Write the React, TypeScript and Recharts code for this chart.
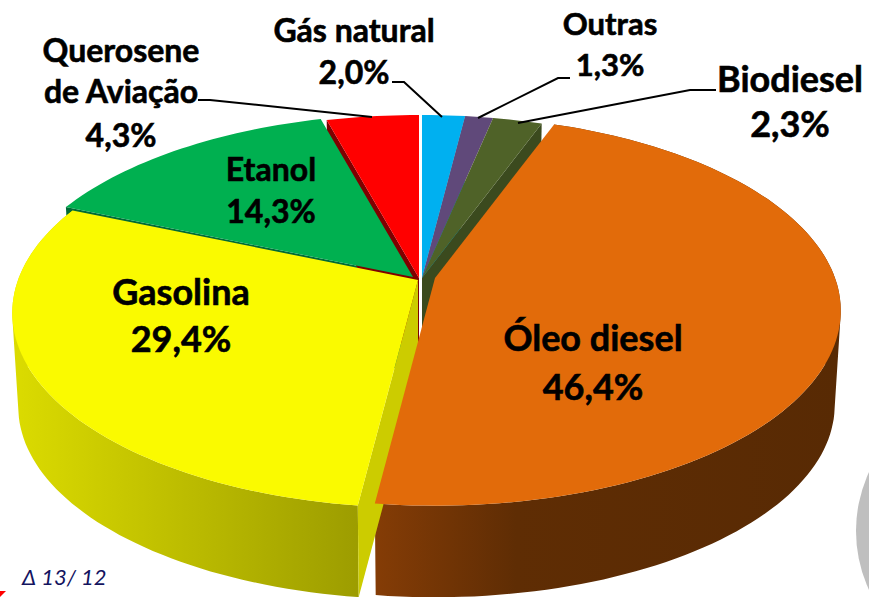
import { Pie, PieChart } from 'recharts'

const categories = ['Gás natural', 'Outras', 'Biodiesel', 'Óleo diesel', 'Gasolina', 'Etanol', 'Querosene de Aviação']
const shares = [2.0, 1.3, 2.3, 46.4, 29.4, 14.3, 4.3]
const topColors = ['#00b0f0', '#60497a', '#4f6228', '#e26b0a', '#fafa00', '#00b050', '#ff0000']
const cutColors = ['#00a0d8', '#4c3a60', '#3b4a1e', '#7f3a05', '#cccc00', '#006a36', '#7f0000']
const wallFills = ['#00a0d8', '#4c3a60', '#3b4a1e', 'url(#wallOrange)', 'url(#wallYellow)', '#006a36', '#7f0000']

// how far each slice is pulled out of the pie, in px
const sliceDx = [4, 4, 4, 17, 0, -5, 1]
const sliceDy = [0, 0, 0, 0, 2, -1, 0]
const sliceScale = [1, 1, 1, 0.995, 0.995, 1, 1]

const chartData = categories.map((name, i) => ({ name, value: shares[i], fill: topColors[i] }))

const CENTER_X = 418
const CENTER_Y = 278
const RADIUS = 402
const SQUASH = 0.4736 // tilt of the disc
const PERSPECTIVE = 0.168
const DEPTH = 95
const BOTTOM_SCALE = 0.985

const PAGE_STYLE = 'html,body{margin:0;padding:0;background:#fff;overflow:hidden}'

type Pt = [number, number]

function project(cx: number, cy: number, r: number, angle: number): Pt {
  const rad = (angle * Math.PI) / 180
  const u = Math.cos(rad)
  const v = -Math.sin(rad)
  const w = 1 - PERSPECTIVE * v
  return [cx + (r * u) / w, cy + (r * SQUASH * v) / w]
}

// same point on the lower rim of the disc
function lower(p: Pt, cx: number, cy: number): Pt {
  return [cx + (p[0] - cx) * BOTTOM_SCALE, cy + DEPTH + (p[1] - cy) * BOTTOM_SCALE]
}

function arcPoints(cx: number, cy: number, r: number, from: number, to: number): Pt[] {
  const steps = Math.max(2, Math.ceil(Math.abs(to - from) / 1.5))
  const pts: Pt[] = []
  for (let i = 0; i <= steps; i++) {
    pts.push(project(cx, cy, r, from + ((to - from) * i) / steps))
  }
  return pts
}

function toPath(pts: Pt[]) {
  return pts.map((p, i) => `${i === 0 ? 'M' : 'L'}${p[0].toFixed(1)},${p[1].toFixed(1)}`).join(' ') + ' Z'
}

function signedArea(pts: Pt[]) {
  let area = 0
  pts.forEach((p, i) => {
    const q = pts[(i + 1) % pts.length]
    area += p[0] * q[1] - q[0] * p[1]
  })
  return area
}

// one quad per arc step, all wound the same way so the union also fills the side silhouette
function wallPath(rim: Pt[], cx: number, cy: number) {
  const quads: string[] = []
  for (let k = 0; k < rim.length - 1; k++) {
    const quad: Pt[] = [rim[k], rim[k + 1], lower(rim[k + 1], cx, cy), lower(rim[k], cx, cy)]
    quads.push(toPath(signedArea(quad) < 0 ? quad.reverse() : quad))
  }
  return quads.join(' ')
}

function sliceGeometry(props: any) {
  const i = categories.indexOf(props.name)
  return {
    i,
    cx: props.cx + sliceDx[i],
    cy: props.cy + sliceDy[i],
    r: props.outerRadius * sliceScale[i],
    start: props.startAngle,
    end: props.endAngle,
  }
}

function radialFace(cx: number, cy: number, r: number, angle: number) {
  const rim = project(cx, cy, r, angle)
  const apex: Pt = [cx, cy]
  return toPath([apex, rim, lower(rim, cx, cy), lower(apex, cx, cy)])
}

// cut faces of the slices at the back, they stay under everything else
function BackFace(props: any) {
  const { i, cx, cy, r, start, end } = sliceGeometry(props)
  const name = categories[i]
  if (name === 'Biodiesel' || name === 'Gás natural') {
    return <path d={radialFace(cx, cy, r, end)} fill={cutColors[i]} />
  }
  if (name === 'Etanol' || name === 'Querosene de Aviação') {
    return <path d={radialFace(cx, cy, r, start)} fill={cutColors[i]} />
  }
  return <g />
}

function FrontWall(props: any) {
  const { i, cx, cy, r, start, end } = sliceGeometry(props)
  const name = categories[i]
  if (name !== 'Óleo diesel' && name !== 'Gasolina') return <g />
  const rim = arcPoints(cx, cy, r, start, end)
  return (
    <g>
      <path d={wallPath(rim, cx, cy)} fill={wallFills[i]} />
      {name === 'Gasolina' && <path d={radialFace(cx, cy, r, start)} fill={cutColors[i]} />}
    </g>
  )
}

function TopFace(props: any) {
  const { i, cx, cy, r, start, end } = sliceGeometry(props)
  return <path d={toPath([[cx, cy], ...arcPoints(cx, cy, r, start, end)])} fill={topColors[i]} />
}

const labelLayout: Record<string, { x: number; lines: string[]; ys: number[]; size: number }> = {
  'Gás natural': { x: 354, lines: ['Gás natural'], ys: [42, 84], size: 32 },
  Outras: { x: 610, lines: ['Outras'], ys: [35, 76], size: 31 },
  Biodiesel: { x: 790, lines: ['Biodiesel'], ys: [92, 137], size: 36 },
  'Óleo diesel': { x: 593, lines: ['Óleo diesel'], ys: [351, 400], size: 36 },
  Gasolina: { x: 181, lines: ['Gasolina'], ys: [305, 352], size: 36 },
  Etanol: { x: 271, lines: ['Etanol'], ys: [181, 223], size: 32 },
  'Querosene de Aviação': { x: 121, lines: ['Querosene', 'de Aviação'], ys: [62, 103, 147], size: 32 },
}

const leaderLines: Record<string, string> = {
  'Gás natural': '392,82 404,82 442,117',
  Outras: '570,78 558,78 478,118',
  Biodiesel: '716,90 690,90 518,123',
  'Querosene de Aviação': '198,100 210,100 372,117',
}

function SliceLabel(props: any) {
  const layout = labelLayout[props.name]
  const rows = [...layout.lines, `${Number(props.value).toFixed(1).replace('.', ',')}%`]
  return (
    <g>
      {leaderLines[props.name] && (
        <polyline points={leaderLines[props.name]} fill="none" stroke="#000" strokeWidth={2} />
      )}
      {rows.map((row, j) => (
        <text
          key={row}
          x={layout.x}
          y={layout.ys[j]}
          textAnchor="middle"
          fontFamily="Lato, sans-serif"
          fontWeight={700}
          fontSize={layout.size}
          fill="#000"
          stroke="#000"
          strokeWidth={0.6}
        >
          {row}
        </text>
      ))}
    </g>
  )
}

export default function App() {
  const pieProps = {
    data: chartData,
    dataKey: 'value',
    nameKey: 'name',
    cx: CENTER_X,
    cy: CENTER_Y,
    innerRadius: 0,
    outerRadius: RADIUS,
    startAngle: 90,
    endAngle: -270,
    paddingAngle: 0,
    stroke: 'none',
    isAnimationActive: false,
  }
  return (
    <div style={{ position: 'absolute', left: 0, top: 0, width: 869, height: 597, overflow: 'hidden' }}>
      <style>{PAGE_STYLE}</style>
      <PieChart width={869} height={597} margin={{ top: 0, right: 0, bottom: 0, left: 0 }}>
        <defs>
          <linearGradient id="wallYellow" gradientUnits="userSpaceOnUse" x1="10" y1="0" x2="362" y2="0">
            <stop offset="0%" stopColor="#dcdc00" />
            <stop offset="100%" stopColor="#9c9c00" />
          </linearGradient>
          <linearGradient id="wallOrange" gradientUnits="userSpaceOnUse" x1="377" y1="0" x2="840" y2="0">
            <stop offset="0%" stopColor="#843c06" />
            <stop offset="30%" stopColor="#5f2d04" />
            <stop offset="100%" stopColor="#582a04" />
          </linearGradient>
        </defs>
        <circle cx={996} cy={531} r={140} fill="#bfbfbf" />
        <Pie {...pieProps} shape={BackFace} label={false} labelLine={false} />
        <Pie {...pieProps} shape={FrontWall} label={false} labelLine={false} />
        <Pie {...pieProps} shape={TopFace} label={SliceLabel} labelLine={false} />
        <text x={22} y={585} fontFamily="Lato, sans-serif" fontStyle="italic" fontSize={22} fill="#14145f">
          Δ 13/ 12
        </text>
        <polygon points="0,591 6,591 0,597" fill="#ff0000" />
      </PieChart>
    </div>
  )
}
